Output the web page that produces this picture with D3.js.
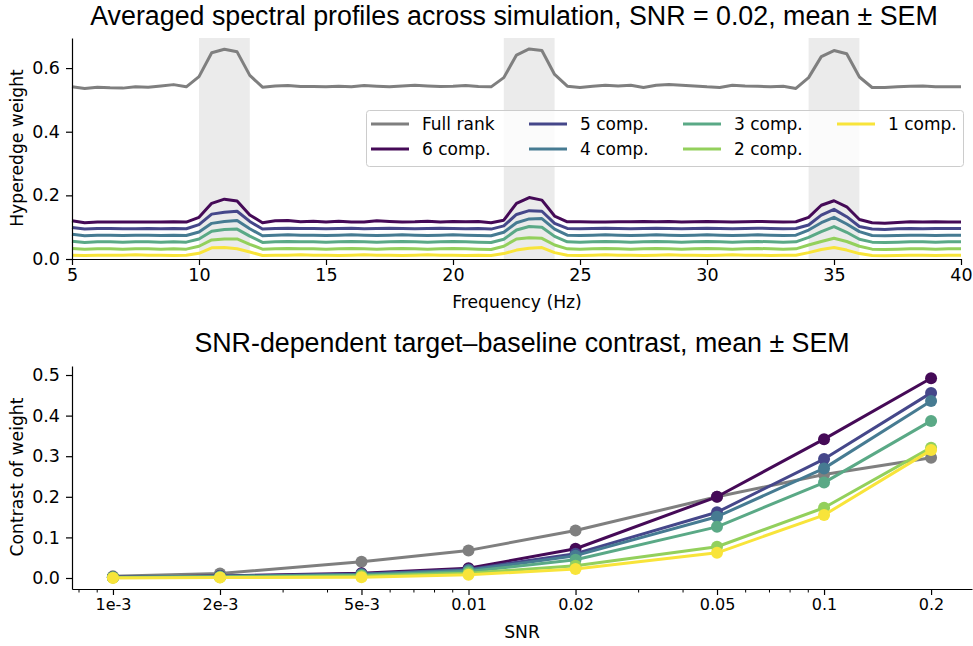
<!DOCTYPE html>
<html>
<head>
<meta charset="utf-8">
<script src="https://cdn.jsdelivr.net/npm/d3@7"></script>
<style>
  html, body { margin: 0; padding: 0; background: #fff; }
  svg { display: block; }
  .tick text { font-family: "DejaVu Sans", sans-serif; fill: #000; }
</style>
</head>
<body>
<svg id="chart" width="973" height="646"></svg>
<script>
// ---------------- DATA ----------------
const freqs = d3.range(5, 40.001, 0.5);
const bands = [[10, 12], [22, 24], [34, 36]];
const seriesNames = ["Full rank", "6 comp.", "5 comp.", "4 comp.", "3 comp.", "2 comp.", "1 comp."];
const seriesColors = ["#7f7f7f", "#450a57", "#45478a", "#467b92", "#5aa986", "#93d05c", "#f8e43a"];

const fullRank = [.541,.536,.540,.538,.537,.541,.540,.544,.548,.541,.573,.648,.659,.651,.577,.540,.544,.545,.542,.542,.541,.543,.541,.545,.543,.541,.544,.546,.544,.542,.543,.545,.542,.541,.570,.641,.660,.655,.580,.543,.539,.543,.546,.544,.546,.539,.546,.548,.546,.544,.541,.539,.546,.544,.543,.541,.543,.536,.570,.636,.655,.645,.572,.539,.539,.541,.543,.544,.541,.541,.541];
const comp6 = [.120,.114,.116,.116,.116,.116,.116,.116,.117,.116,.131,.175,.188,.182,.138,.114,.120,.121,.117,.119,.116,.119,.116,.116,.120,.118,.116,.117,.119,.116,.118,.117,.118,.114,.122,.175,.193,.185,.135,.117,.117,.116,.116,.117,.117,.118,.117,.118,.116,.117,.118,.117,.116,.117,.118,.117,.116,.117,.131,.169,.183,.164,.124,.114,.112,.115,.117,.116,.117,.116,.116];
const comp5 = [.099,.094,.096,.096,.095,.095,.096,.095,.096,.095,.108,.141,.147,.150,.118,.094,.096,.097,.096,.096,.095,.096,.097,.095,.096,.097,.096,.095,.096,.097,.096,.095,.096,.094,.104,.140,.152,.150,.112,.096,.095,.096,.097,.096,.095,.096,.097,.096,.095,.096,.097,.096,.095,.096,.097,.096,.095,.096,.107,.138,.156,.133,.102,.094,.093,.095,.096,.095,.096,.096,.096];
const comp4 = [.078,.073,.075,.075,.074,.075,.075,.074,.075,.074,.085,.112,.118,.121,.095,.073,.075,.076,.075,.075,.074,.075,.076,.075,.074,.075,.076,.075,.074,.075,.076,.075,.074,.073,.084,.114,.126,.127,.094,.075,.074,.075,.076,.075,.074,.075,.076,.075,.074,.075,.076,.075,.074,.075,.076,.075,.074,.075,.091,.114,.131,.110,.086,.074,.073,.074,.075,.075,.074,.075,.075];
const comp3 = [.056,.052,.054,.054,.053,.054,.054,.053,.054,.053,.063,.087,.093,.094,.072,.052,.054,.055,.054,.054,.053,.054,.055,.054,.053,.054,.055,.054,.053,.054,.055,.054,.053,.052,.062,.091,.102,.100,.071,.054,.053,.054,.055,.054,.053,.054,.055,.054,.053,.054,.055,.054,.053,.054,.055,.054,.053,.054,.068,.086,.102,.084,.062,.053,.052,.053,.054,.054,.053,.054,.054];
const comp2 = [.033,.031,.032,.032,.031,.032,.032,.031,.032,.031,.040,.060,.063,.063,.046,.031,.032,.033,.032,.032,.031,.032,.033,.032,.031,.032,.033,.032,.031,.032,.033,.032,.031,.030,.040,.063,.067,.065,.044,.032,.031,.032,.033,.032,.031,.032,.033,.032,.031,.032,.033,.032,.031,.032,.033,.032,.031,.032,.044,.055,.065,.055,.040,.031,.030,.031,.032,.032,.031,.032,.032];
const comp1 = [.012,.011,.012,.012,.012,.013,.012,.012,.011,.012,.018,.035,.036,.032,.022,.011,.012,.012,.013,.012,.012,.011,.012,.013,.012,.012,.011,.012,.013,.012,.012,.011,.012,.011,.017,.028,.034,.036,.020,.012,.011,.012,.013,.012,.012,.011,.012,.013,.012,.012,.011,.012,.013,.012,.012,.011,.012,.012,.020,.030,.036,.028,.017,.011,.010,.011,.012,.012,.011,.012,.012];

const snrLevels = [0.001, 0.002, 0.005, 0.01, 0.02, 0.05, 0.1, 0.2];
const snrTickLabels = ["1e-3", "2e-3", "5e-3", "0.01", "0.02", "0.05", "0.1", "0.2"];
const snrMinorTicks = [0.0008, 0.0009, 0.003, 0.004, 0.006, 0.007, 0.008, 0.009, 0.03, 0.04, 0.06, 0.07, 0.08, 0.09];
const contrastFull = [.004, .011, .040, .068, .117, .200, .255, .296];
const contrast6 = [.002, .005, .012, .024, .072, .200, .342, .492];
const contrast5 = [.002, .004, .010, .021, .060, .162, .293, .456];
const contrast4 = [.002, .004, .009, .019, .055, .151, .270, .436];
const contrast3 = [.001, .003, .007, .016, .045, .126, .235, .387];
const contrast2 = [.001, .002, .005, .012, .030, .077, .173, .321];
const contrast1 = [.000, .001, .002, .008, .022, .062, .155, .315];

const topTicksX = [5, 10, 15, 20, 25, 30, 35, 40];
const topTicksY = [0.0, 0.2, 0.4, 0.6];
const botTicksY = [0.0, 0.1, 0.2, 0.3, 0.4, 0.5];

const spectra = [fullRank, comp6, comp5, comp4, comp3, comp2, comp1];
const contrasts = [contrastFull, contrast6, contrast5, contrast4, contrast3, contrast2, contrast1];

// ---------------- DRAW ----------------
const svg = d3.select("#chart");
const titleFont = '"Liberation Sans", Arial, sans-serif';
const labelFont = '"DejaVu Sans", sans-serif';
const tickFs = "17.5px", labelFs = "17.2px";

// ---- Top panel ----
const boxTop = { left: 72, right: 961, top: 38, bottom: 259 };
const xTop = d3.scaleLinear().domain([5, 40]).range([boxTop.left, boxTop.right]);
const yTop = d3.scaleLinear().domain([0, 0.6945]).range([boxTop.bottom, boxTop.top]);
const gTop = svg.append("g");

gTop.selectAll("rect.band").data(bands).join("rect")
  .attr("class", "band")
  .attr("x", d => xTop(d[0])).attr("width", d => xTop(d[1]) - xTop(d[0]))
  .attr("y", boxTop.top).attr("height", boxTop.bottom - boxTop.top)
  .attr("fill", "#ebebeb");

const lineTop = d3.line().x((d, i) => xTop(freqs[i])).y(d => yTop(d));
spectra.forEach((s, k) => {
  gTop.append("path").datum(s)
    .attr("d", lineTop)
    .attr("fill", "none")
    .attr("stroke", seriesColors[k])
    .attr("stroke-width", 3)
    .attr("stroke-linejoin", "round");
});

const axXTop = gTop.append("g").attr("transform", `translate(0,${boxTop.bottom})`)
  .call(d3.axisBottom(xTop).tickValues(topTicksX).tickFormat(d3.format("d")).tickSize(6).tickPadding(4).tickSizeOuter(0));
axXTop.selectAll("text").style("font-size", tickFs);
const axYTop = gTop.append("g").attr("transform", `translate(${boxTop.left},0)`)
  .call(d3.axisLeft(yTop).tickValues(topTicksY).tickFormat(d3.format(".1f")).tickSize(6).tickPadding(6).tickSizeOuter(0));
axYTop.selectAll("text").style("font-size", tickFs);
[axXTop, axYTop].forEach(a => { a.select(".domain").attr("stroke", "#000").attr("stroke-width", 1.2); a.selectAll("line").attr("stroke-width", 1.2); });

svg.append("text").attr("x", 514).attr("y", 24.5).attr("text-anchor", "middle")
  .style("font-family", titleFont).style("font-size", "26.8px")
  .text("Averaged spectral profiles across simulation, SNR = 0.02, mean ± SEM");
svg.append("text").attr("x", 517).attr("y", 308).attr("text-anchor", "middle")
  .style("font-family", labelFont).style("font-size", labelFs).text("Frequency (Hz)");
svg.append("text").attr("transform", "translate(23,148) rotate(-90)").attr("text-anchor", "middle")
  .style("font-family", labelFont).style("font-size", labelFs).text("Hyperedge weight");

// legend
const leg = svg.append("g");
leg.append("rect").attr("x", 366.5).attr("y", 110.5).attr("width", 597).attr("height", 56).attr("rx", 3)
  .attr("fill", "#fff").attr("fill-opacity", 0.8).attr("stroke", "#cccccc").attr("stroke-width", 1);
const colX = [371, 529, 683, 837];
const rowY = [124, 149];
seriesNames.forEach((name, k) => {
  const col = Math.floor(k / 2), row = k % 2;
  const x0 = colX[col], y0 = rowY[row];
  leg.append("line").attr("x1", x0).attr("x2", x0 + 38).attr("y1", y0).attr("y2", y0)
    .attr("stroke", seriesColors[k]).attr("stroke-width", 3);
  leg.append("text").attr("x", x0 + 51).attr("y", y0 + 6)
    .style("font-family", labelFont).style("font-size", "17px").text(name);
});

// ---- Bottom panel ----
const boxBot = { left: 72, right: 972, top: 366, bottom: 589 };
const xBot = d3.scaleLog().domain([0.000767, 0.2607]).range([boxBot.left, boxBot.right]);
const yBot = d3.scaleLinear().domain([-0.0271, 0.5222]).range([boxBot.bottom, boxBot.top]);
const gBot = svg.append("g");

const lineBot = d3.line().x((d, i) => xBot(snrLevels[i])).y(d => yBot(d));
contrasts.forEach((s, k) => {
  const g = gBot.append("g");
  g.append("path").datum(s).attr("d", lineBot)
    .attr("fill", "none").attr("stroke", seriesColors[k])
    .attr("stroke-width", 3).attr("stroke-linejoin", "round");
  g.selectAll("circle").data(s).join("circle")
    .attr("cx", (d, i) => xBot(snrLevels[i])).attr("cy", d => yBot(d)).attr("r", 6)
    .attr("fill", seriesColors[k]);
});

const axXBot = gBot.append("g").attr("transform", `translate(0,${boxBot.bottom})`)
  .call(d3.axisBottom(xBot).tickValues(snrLevels).tickFormat((d, i) => snrTickLabels[i]).tickSize(6).tickPadding(4).tickSizeOuter(0));
axXBot.selectAll("text").style("font-size", "16px");
gBot.append("g").attr("transform", `translate(0,${boxBot.bottom})`)
  .call(d3.axisBottom(xBot).tickValues(snrMinorTicks).tickFormat("").tickSize(3.5).tickSizeOuter(0))
  .call(a => a.select(".domain").remove())
  .selectAll("line").attr("stroke-width", 1);
const axYBot = gBot.append("g").attr("transform", `translate(${boxBot.left},0)`)
  .call(d3.axisLeft(yBot).tickValues(botTicksY).tickFormat(d3.format(".1f")).tickSize(6).tickPadding(6).tickSizeOuter(0));
axYBot.selectAll("text").style("font-size", tickFs);
[axXBot, axYBot].forEach(a => { a.select(".domain").attr("stroke", "#000").attr("stroke-width", 1.2); a.selectAll("line").attr("stroke-width", 1.2); });

svg.append("text").attr("x", 522).attr("y", 352).attr("text-anchor", "middle")
  .style("font-family", titleFont).style("font-size", "26.8px")
  .text("SNR-dependent target–baseline contrast, mean ± SEM");
svg.append("text").attr("x", 522).attr("y", 638).attr("text-anchor", "middle")
  .style("font-family", labelFont).style("font-size", labelFs).text("SNR");
svg.append("text").attr("transform", "translate(23,477) rotate(-90)").attr("text-anchor", "middle")
  .style("font-family", labelFont).style("font-size", labelFs).text("Contrast of weight");
</script>
</body>
</html>
